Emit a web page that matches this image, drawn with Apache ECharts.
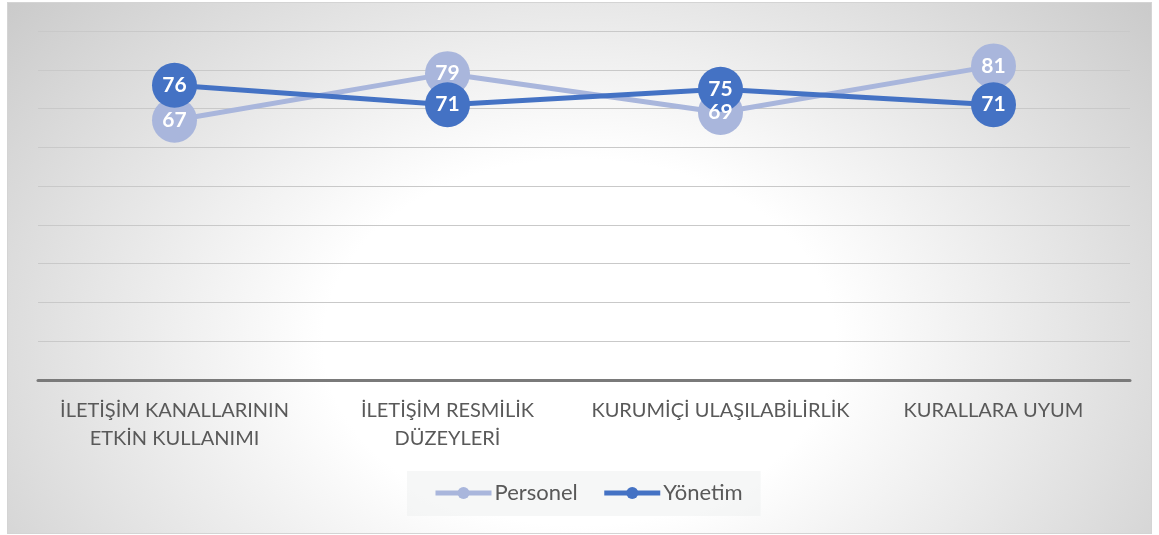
<!DOCTYPE html>
<html>
<head>
<meta charset="utf-8">
<script src="https://cdn.jsdelivr.net/npm/echarts@6/dist/echarts.min.js"></script>
<style>
    html, body { margin: 0; padding: 0; background: #fff; }
    #chart {
        position: absolute; left: 7px; top: 2px;
        width: 1143px; height: 530px;
        border: 1px solid #d4d4d4;
        background: radial-gradient(ellipse 70% 108% at 50% 64%, #ffffff 32%, #c4c4c4 100%);
    }
</style>
</head>
<body>
<div id="chart"></div>
<script>
// kategoriler ve seriler
var categories = ['İLETİŞİM KANALLARININ\nETKİN KULLANIMI', 'İLETİŞİM RESMİLİK\nDÜZEYLERİ', 'KURUMİÇİ ULAŞILABİLİRLİK', 'KURALLARA UYUM'];
var personel = [67, 79, 69, 81];
var yonetim = [76, 71, 75, 71];
var seriesNames = ['Personel', 'Yönetim'];

var FONT = 'Lato, "Noto Sans", sans-serif';

var myChart = echarts.init(document.getElementById('chart'));

function lineSeries(name, data, color) {
    return {
        name: name,
        type: 'line',
        data: data,
        symbol: 'circle',
        symbolSize: 45,
        lineStyle: { color: color, width: 5 },
        itemStyle: { color: color },
        label: {
            show: true,
            position: 'inside',
            color: '#ffffff',
            fontWeight: 'bold',
            fontSize: 21,
            fontFamily: FONT
        },
        emphasis: { disabled: true },
        animation: false
    };
}

myChart.setOption({
    backgroundColor: 'transparent',
    grid: {
        left: 30,
        right: 21,
        top: 28,
        bottom: 153
    },
    legend: {
        data: seriesNames,
        left: 399,
        top: 468,
        padding: [11, 18, 12, 26],
        backgroundColor: 'rgba(238,240,240,0.55)',
        itemWidth: 56,
        itemHeight: 15,
        itemGap: 24,
        lineStyle: { width: 5 },
        textStyle: { color: '#595959', fontSize: 22, fontFamily: FONT, padding: [0, 0, 0, -2] }
    },
    xAxis: {
        type: 'category',
        data: categories,
        boundaryGap: true,
        axisTick: { show: false },
        axisLine: { lineStyle: { color: '#7a7a7a', width: 3 } },
        axisLabel: {
            color: '#595959',
            fontSize: 20,
            fontFamily: FONT,
            lineHeight: 28,
            margin: 17,
            interval: 0
        }
    },
    yAxis: {
        type: 'value',
        min: 0,
        max: 90,
        interval: 10,
        axisLabel: { show: false },
        axisLine: { show: false },
        axisTick: { show: false },
        splitLine: { lineStyle: { color: '#c9c9c9', width: 1 } }
    },
    series: [
        lineSeries(seriesNames[0], personel, '#A9B6DC'),
        lineSeries(seriesNames[1], yonetim, '#4472C4')
    ]
});
</script>
</body>
</html>
